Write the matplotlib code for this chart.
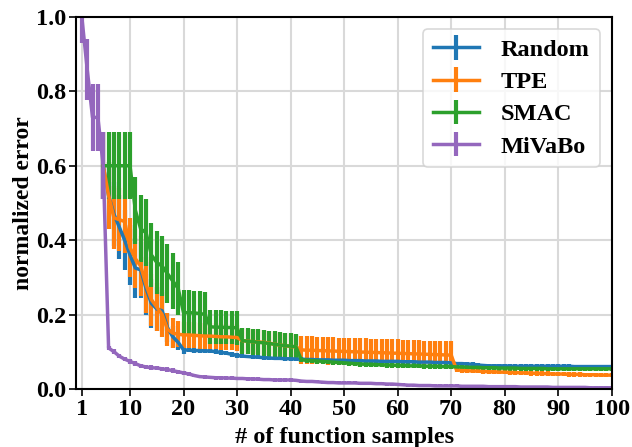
import matplotlib
matplotlib.use("Agg")
import matplotlib.pyplot as plt
import numpy as np

plt.rcParams["font.family"] = ["Liberation Serif", "DejaVu Serif"]
plt.rcParams["font.weight"] = "bold"

# x positions
x_all = list(range(1, 101))
x_base = list(range(5, 101))

# Random (x = 5..100)
random_mean = [
    0.60, 0.52, 0.47, 0.435, 0.40, 0.36,
    0.325, 0.32, 0.27, 0.23, 0.215, 0.21, 0.165, 0.14, 0.125, 0.105,
    0.104, 0.103, 0.103, 0.102, 0.102, 0.100, 0.098, 0.096, 0.093, 0.090,
    0.088, 0.087, 0.086, 0.085, 0.084, 0.083, 0.082, 0.082, 0.081, 0.081,
    0.080, 0.080, 0.079, 0.079, 0.078, 0.078, 0.078, 0.077, 0.077, 0.077,
    0.076, 0.076, 0.076, 0.075, 0.075, 0.075, 0.074, 0.074, 0.074, 0.074,
    0.073, 0.073, 0.073, 0.072, 0.072, 0.072, 0.071, 0.071, 0.071, 0.070,
    0.068, 0.068, 0.067, 0.066, 0.064, 0.063, 0.062, 0.062, 0.062, 0.062,
    0.061, 0.061, 0.061, 0.061, 0.061, 0.061, 0.061, 0.061, 0.061, 0.061,
    0.061, 0.061, 0.060, 0.060, 0.060, 0.060, 0.060, 0.060, 0.060, 0.060,
]
random_err = [
    0.09, 0.09, 0.085, 0.085, 0.08, 0.08,
    0.08, 0.075, 0.07, 0.065, 0.06, 0.055, 0.04, 0.03, 0.02, 0.01,
    0.006, 0.006, 0.006, 0.006, 0.006, 0.006, 0.006, 0.006, 0.006, 0.006,
    0.005, 0.005, 0.005, 0.005, 0.005, 0.005, 0.005, 0.005, 0.005, 0.005,
    0.005, 0.005, 0.005, 0.005, 0.005, 0.005, 0.005, 0.005, 0.005, 0.005,
    0.005, 0.005, 0.005, 0.005, 0.005, 0.005, 0.005, 0.005, 0.005, 0.005,
    0.005, 0.005, 0.005, 0.005, 0.005, 0.005, 0.005, 0.005, 0.005, 0.005,
    0.005, 0.005, 0.005, 0.005, 0.005, 0.005, 0.005, 0.005, 0.005, 0.005,
    0.005, 0.005, 0.005, 0.005, 0.005, 0.005, 0.005, 0.005, 0.005, 0.005,
    0.005, 0.005, 0.005, 0.005, 0.005, 0.005, 0.005, 0.005, 0.005, 0.005,
]

# TPE (x = 5..100)
tpe_mean = [
    0.60, 0.52, 0.46, 0.455, 0.45, 0.38,
    0.35, 0.33, 0.28, 0.24, 0.22, 0.20, 0.16, 0.15, 0.147, 0.145,
    0.145, 0.144, 0.143, 0.142, 0.142, 0.141, 0.140, 0.140, 0.139, 0.138,
    0.130, 0.128, 0.127, 0.126, 0.125, 0.123, 0.120, 0.118, 0.116, 0.114,
    0.113, 0.105, 0.104, 0.104, 0.103, 0.103, 0.102, 0.102, 0.101, 0.101,
    0.100, 0.100, 0.099, 0.099, 0.098, 0.098, 0.097, 0.097, 0.096, 0.096,
    0.095, 0.095, 0.094, 0.094, 0.093, 0.093, 0.092, 0.092, 0.091, 0.091,
    0.051, 0.050, 0.049, 0.048, 0.048, 0.047, 0.046, 0.046, 0.045, 0.045,
    0.044, 0.044, 0.043, 0.043, 0.042, 0.042, 0.041, 0.041, 0.040, 0.040,
    0.040, 0.039, 0.039, 0.039, 0.038, 0.038, 0.038, 0.037, 0.037, 0.037,
]
tpe_err = [
    0.09, 0.09, 0.085, 0.085, 0.085, 0.08,
    0.08, 0.08, 0.075, 0.07, 0.065, 0.06, 0.045, 0.04, 0.035, 0.035,
    0.035, 0.035, 0.035, 0.035, 0.035, 0.035, 0.035, 0.035, 0.035, 0.035,
    0.033, 0.033, 0.033, 0.033, 0.033, 0.033, 0.033, 0.033, 0.033, 0.033,
    0.033, 0.037, 0.037, 0.037, 0.037, 0.037, 0.037, 0.037, 0.037, 0.037,
    0.037, 0.037, 0.037, 0.037, 0.037, 0.037, 0.037, 0.037, 0.037, 0.037,
    0.037, 0.037, 0.037, 0.037, 0.037, 0.037, 0.037, 0.037, 0.037, 0.037,
    0.006, 0.006, 0.006, 0.006, 0.006, 0.006, 0.006, 0.006, 0.006, 0.006,
    0.006, 0.006, 0.006, 0.006, 0.006, 0.006, 0.006, 0.006, 0.006, 0.006,
    0.006, 0.006, 0.006, 0.006, 0.006, 0.006, 0.006, 0.006, 0.006, 0.006,
]

# SMAC (x = 5..100)
smac_mean = [
    0.60, 0.60, 0.60, 0.60, 0.60, 0.60,
    0.48, 0.43, 0.42, 0.36, 0.34, 0.33, 0.31, 0.29, 0.27, 0.205,
    0.205, 0.204, 0.203, 0.200, 0.167, 0.166, 0.166, 0.165, 0.165, 0.164,
    0.130, 0.128, 0.127, 0.125, 0.124, 0.122, 0.120, 0.118, 0.116, 0.115,
    0.113, 0.078, 0.077, 0.076, 0.075, 0.074, 0.073, 0.072, 0.071, 0.070,
    0.069, 0.068, 0.067, 0.066, 0.066, 0.065, 0.065, 0.064, 0.064, 0.063,
    0.063, 0.062, 0.062, 0.062, 0.061, 0.061, 0.061, 0.060, 0.060, 0.060,
    0.059, 0.059, 0.058, 0.058, 0.058, 0.057, 0.057, 0.057, 0.056, 0.056,
    0.056, 0.056, 0.055, 0.055, 0.055, 0.055, 0.055, 0.054, 0.054, 0.054,
    0.054, 0.054, 0.054, 0.054, 0.054, 0.054, 0.054, 0.054, 0.054, 0.054,
]
smac_err = [
    0.09, 0.09, 0.09, 0.09, 0.09, 0.09,
    0.09, 0.09, 0.09, 0.085, 0.085, 0.08, 0.08, 0.075, 0.07, 0.06,
    0.06, 0.06, 0.06, 0.06, 0.045, 0.045, 0.045, 0.045, 0.045, 0.045,
    0.035, 0.035, 0.035, 0.035, 0.035, 0.035, 0.035, 0.035, 0.035, 0.035,
    0.035, 0.007, 0.007, 0.007, 0.007, 0.007, 0.007, 0.007, 0.007, 0.007,
    0.007, 0.007, 0.007, 0.007, 0.007, 0.007, 0.007, 0.007, 0.007, 0.007,
    0.007, 0.007, 0.007, 0.007, 0.007, 0.007, 0.007, 0.007, 0.007, 0.007,
    0.007, 0.007, 0.007, 0.007, 0.007, 0.007, 0.007, 0.007, 0.007, 0.007,
    0.007, 0.007, 0.007, 0.007, 0.007, 0.007, 0.007, 0.007, 0.007, 0.007,
    0.007, 0.007, 0.007, 0.007, 0.007, 0.007, 0.007, 0.007, 0.007, 0.007,
]

# MiVaBo (x = 1..100)
mivabo_mean = [
    1.0, 0.86, 0.73, 0.73, 0.60, 0.11, 0.10, 0.088, 0.08, 0.074,
    0.068, 0.062, 0.059, 0.057, 0.056, 0.054, 0.052, 0.049, 0.046, 0.043,
    0.040, 0.036, 0.033, 0.032, 0.031, 0.030, 0.030, 0.029, 0.029, 0.028,
    0.028, 0.027, 0.027, 0.026, 0.025, 0.025, 0.024, 0.024, 0.024, 0.024,
    0.023, 0.021, 0.020, 0.020, 0.019, 0.018, 0.017, 0.017, 0.016, 0.016,
    0.016, 0.016, 0.015, 0.015, 0.015, 0.014, 0.014, 0.013, 0.013, 0.012,
    0.011, 0.010, 0.010, 0.009, 0.009, 0.009, 0.008, 0.008, 0.008, 0.008,
    0.008, 0.007, 0.007, 0.007, 0.007, 0.007, 0.006, 0.006, 0.006, 0.006,
    0.006, 0.006, 0.005, 0.005, 0.005, 0.005, 0.005, 0.005, 0.004, 0.004,
    0.004, 0.004, 0.004, 0.004, 0.004, 0.003, 0.003, 0.003, 0.003, 0.003,
]
mivabo_err = [
    0.07, 0.082, 0.09, 0.09, 0.09, 0.006, 0.006, 0.006, 0.006, 0.006,
    0.006, 0.006, 0.006, 0.006, 0.006, 0.006, 0.006, 0.006, 0.006, 0.006,
    0.005, 0.005, 0.005, 0.005, 0.005, 0.005, 0.005, 0.005, 0.005, 0.005,
    0.005, 0.005, 0.005, 0.005, 0.005, 0.005, 0.005, 0.005, 0.005, 0.005,
    0.004, 0.004, 0.004, 0.004, 0.004, 0.004, 0.004, 0.004, 0.004, 0.004,
    0.004, 0.004, 0.004, 0.004, 0.004, 0.004, 0.004, 0.004, 0.004, 0.004,
    0.004, 0.004, 0.004, 0.004, 0.004, 0.004, 0.004, 0.004, 0.004, 0.004,
    0.004, 0.004, 0.004, 0.004, 0.004, 0.004, 0.004, 0.004, 0.004, 0.004,
    0.004, 0.004, 0.004, 0.004, 0.004, 0.004, 0.004, 0.004, 0.004, 0.004,
    0.004, 0.004, 0.004, 0.004, 0.004, 0.004, 0.004, 0.004, 0.004, 0.004,
]

x_ticks = [1, 10, 20, 30, 40, 50, 60, 70, 80, 90, 100]
y_ticks = [0.0, 0.2, 0.4, 0.6, 0.8, 1.0]

fig = plt.figure(figsize=(6.32, 4.47), dpi=100)
ax = fig.add_axes([0.121, 0.13, 0.847, 0.832])

series = [
    ("Random", x_base, random_mean, random_err, "tab:blue"),
    ("TPE", x_base, tpe_mean, tpe_err, "tab:orange"),
    ("SMAC", x_base, smac_mean, smac_err, "tab:green"),
    ("MiVaBo", x_all, mivabo_mean, mivabo_err, "tab:purple"),
]
for name, xs, ys, es, c in series:
    ax.errorbar(xs, ys, yerr=es, color=c, linewidth=2.5, elinewidth=3, capsize=0, label=name)

ax.set_xlim(0, 100)
ax.set_ylim(0, 1.0)
ax.set_xticks(x_ticks)
ax.set_yticks(y_ticks)
ax.set_yticklabels([f"{v:.1f}" for v in y_ticks])
ax.tick_params(axis="both", labelsize=17.5, direction="out", length=5, width=1.2, pad=2)
ax.grid(True, color="#d9d9d9", linewidth=1.5)
ax.set_axisbelow(True)
for s in ax.spines.values():
    s.set_color("black")
    s.set_linewidth(1.5)

ax.set_xlabel("# of function samples", fontsize=17.5, fontweight="bold", labelpad=5)
ax.set_ylabel("normalized error", fontsize=17, fontweight="bold", labelpad=2)
leg = ax.legend(loc="upper right", fontsize=17.5, handlelength=1.9, borderpad=0.4,
                labelspacing=0.42, handletextpad=0.9, borderaxespad=0.5)
leg.get_frame().set_edgecolor("#d0d0d0")
leg.get_frame().set_linewidth(1.2)

fig.savefig("out.png", dpi=100)
